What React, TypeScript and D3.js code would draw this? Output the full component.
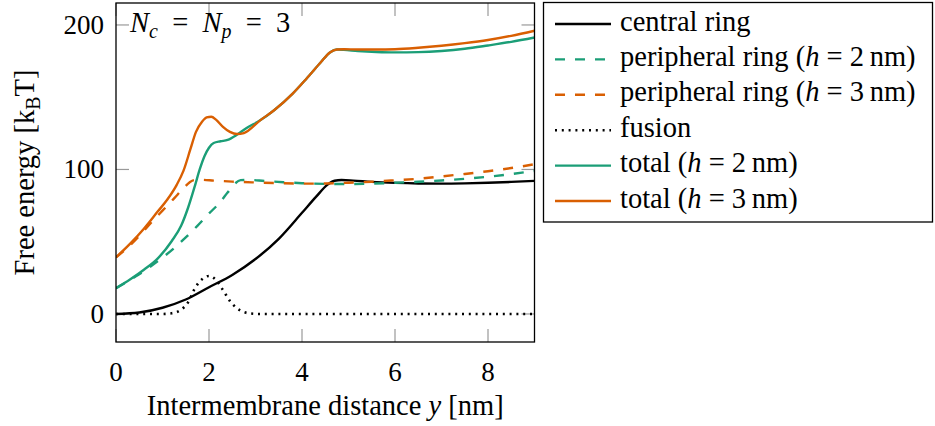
import React, { useEffect, useRef } from "react";
import * as d3 from "d3";

// Free energy curves: x in nm, energies in kBT
const xCentral = [0, 0.5, 1, 1.5, 2, 2.5, 3, 3.5, 4, 4.3, 4.55, 4.7, 4.85, 5.1, 5.5, 6, 6.5, 7, 7.5, 8, 8.5, 9];
const central = [0, 1, 4.3, 10, 18.5, 27, 38, 52, 70, 81, 89.5, 92.2, 92.7, 92.3, 91.4, 90.7, 90.3, 90.2, 90.4, 90.8, 91.4, 92.1];

const xPeri2 = [0, 0.25, 0.5, 0.75, 1, 1.25, 1.5, 1.75, 2, 2.2, 2.4, 2.55, 2.68, 2.85, 3.2, 3.6, 4, 4.5, 5, 5.5, 6, 6.5, 7, 7.5, 8, 8.5, 9];
const peri2 = [17.8, 22.5, 27.5, 33, 39, 45.5, 53, 61, 69.5, 76, 84, 90, 92.6, 92.8, 92, 91.2, 90.5, 90, 89.9, 90.2, 90.8, 91.5, 92.4, 93.5, 95, 96.8, 99];

const xPeri3 = [0, 0.25, 0.5, 0.75, 1, 1.25, 1.45, 1.58, 1.68, 1.85, 2.1, 2.5, 3, 3.5, 4, 4.5, 5, 5.5, 6, 6.5, 7, 7.5, 8, 8.5, 9];
const peri3 = [39.2, 46, 54, 63, 71.5, 80, 87, 91, 92.6, 92.8, 92.3, 91.6, 91, 90.5, 90.2, 90.3, 90.8, 91.5, 92.5, 93.6, 95.2, 96.9, 98.8, 101, 103.6];

const xFusion = [0, 1, 1.2, 1.4, 1.55, 1.7, 1.85, 2, 2.15, 2.3, 2.45, 2.6, 2.75, 2.9, 3.1, 9];
const fusion = [0, 0, 0.5, 3, 8, 18, 24, 26.3, 23.5, 16.6, 9, 4, 1.3, 0.3, 0, 0];

const xTotal2 = [0, 0.3, 0.6, 0.9, 1.2, 1.4, 1.55, 1.7, 1.8, 1.9, 2.0, 2.1, 2.25, 2.4, 2.6, 2.8, 3.1, 3.4, 3.8, 4.1, 4.4, 4.6, 4.75, 4.9, 5.2, 5.6, 6, 6.5, 7, 7.5, 8, 8.5, 9];
const total2 = [17.8, 23.8, 30.6, 38.5, 50.5, 61, 73.5, 89, 100, 109, 115, 118.3, 119.5, 120.5, 124, 128.5, 134, 141, 152.5, 163, 174, 181, 183, 182.8, 182, 181.3, 181, 181.2, 182, 183.5, 185.8, 188.3, 191.3];

const xTotal3 = [0, 0.3, 0.6, 0.9, 1.1, 1.3, 1.45, 1.6, 1.72, 1.85, 1.95, 2.05, 2.15, 2.3, 2.45, 2.6, 2.75, 3.1, 3.4, 3.8, 4.1, 4.4, 4.6, 4.75, 4.9, 5.2, 5.6, 6, 6.5, 7, 7.5, 8, 8.5, 9];
const total3 = [39.2, 48.5, 59, 71, 79, 89, 99, 114, 126, 133, 136, 136.5, 134.5, 129.5, 126, 124.5, 125.2, 134, 141, 152.5, 163, 174, 181, 183, 183.2, 183, 183, 183.2, 184.2, 185.6, 187.4, 189.6, 192.5, 196];

const xTicks = [0, 2, 4, 6, 8];
const yTicks = [0, 100, 200];

const GREEN = "#1b9e77";
const ORANGE = "#d95f02";
const FONT = "Liberation Serif, Times New Roman, serif";

type Seg = { text: string; italic?: boolean; sub?: boolean };

const legendLabels: Seg[][] = [
  [{ text: "central ring" }],
  [{ text: "peripheral ring (" }, { text: "h", italic: true }, { text: " = 2\u2009nm)" }],
  [{ text: "peripheral ring (" }, { text: "h", italic: true }, { text: " = 3\u2009nm)" }],
  [{ text: "fusion" }],
  [{ text: "total (" }, { text: "h", italic: true }, { text: " = 2\u2009nm)" }],
  [{ text: "total (" }, { text: "h", italic: true }, { text: " = 3\u2009nm)" }],
];

const series = [
  { xs: xCentral, ys: central, color: "#000", dash: "", width: 2.4 },
  { xs: xPeri2, ys: peri2, color: GREEN, dash: "10 10", width: 2.4 },
  { xs: xPeri3, ys: peri3, color: ORANGE, dash: "10 10", width: 2.4 },
  { xs: xFusion, ys: fusion, color: "#000", dash: "2 4.8", width: 2.6 },
  { xs: xTotal2, ys: total2, color: GREEN, dash: "", width: 2.4 },
  { xs: xTotal3, ys: total3, color: ORANGE, dash: "", width: 2.4 },
];

// append text made of roman / italic / subscript pieces
function rich(sel: d3.Selection<SVGTextElement, unknown, null, undefined>, segs: Seg[], size: number) {
  let shifted = false;
  segs.forEach((s) => {
    const t = sel.append("tspan").text(s.text);
    if (s.italic) t.style("font-style", "italic");
    if (s.sub) {
      t.style("font-size", `${size * 0.7}px`).attr("dy", shifted ? 0 : size * 0.22);
      shifted = true;
    } else if (shifted) {
      t.attr("dy", -size * 0.22);
      shifted = false;
    }
  });
}

const App: React.FC = () => {
  const svgRef = useRef<SVGSVGElement>(null);

  useEffect(() => {
    if (!svgRef.current) return;
    const svg = d3.select(svgRef.current);
    svg.selectAll("*").remove();

    const left = 116;
    const right = 534.5;
    const top = 3;
    const bottom = 342;
    const fs = 27; // tick labels
    const ls = 28.5; // titles, legend

    const x = d3.scaleLinear().domain([0, 9]).range([left, right]);
    const y = d3.scaleLinear().domain([-19.4, 215.2]).range([bottom, top]);

    svg
      .append("clipPath")
      .attr("id", "plot-clip")
      .append("rect")
      .attr("x", left)
      .attr("y", top)
      .attr("width", right - left)
      .attr("height", bottom - top);

    // ticks on all four sides, pointing inwards
    const tickLen = 13;
    const ticks = svg.append("g").attr("stroke", "#999").attr("stroke-width", 1.2);
    xTicks.forEach((t) => {
      ticks.append("line").attr("x1", x(t)).attr("x2", x(t)).attr("y1", bottom).attr("y2", bottom - tickLen);
      ticks.append("line").attr("x1", x(t)).attr("x2", x(t)).attr("y1", top).attr("y2", top + tickLen);
    });
    yTicks.forEach((t) => {
      ticks.append("line").attr("x1", left).attr("x2", left + tickLen).attr("y1", y(t)).attr("y2", y(t));
      ticks.append("line").attr("x1", right).attr("x2", right - tickLen).attr("y1", y(t)).attr("y2", y(t));
    });

    // curves
    const plot = svg.append("g").attr("clip-path", "url(#plot-clip)");
    series.forEach((s) => {
      const pts: [number, number][] = s.xs.map((v, i) => [v, s.ys[i]]);
      const line = d3
        .line<[number, number]>()
        .x((d) => x(d[0]))
        .y((d) => y(d[1]))
        .curve(d3.curveMonotoneX);
      plot
        .append("path")
        .attr("d", line(pts) as string)
        .attr("fill", "none")
        .attr("stroke", s.color)
        .attr("stroke-width", s.width)
        .attr("stroke-dasharray", s.dash || null);
    });

    // frame
    svg
      .append("rect")
      .attr("x", left)
      .attr("y", top)
      .attr("width", right - left)
      .attr("height", bottom - top)
      .attr("fill", "none")
      .attr("stroke", "#000")
      .attr("stroke-width", 1.3);

    const txt = svg
      .append("g")
      .style("font-family", FONT)
      .style("font-size", `${fs}px`)
      .attr("fill", "#000");

    // tick labels
    xTicks.forEach((t) => {
      txt.append("text").attr("x", x(t)).attr("y", 381).attr("text-anchor", "middle").text(t);
    });
    yTicks.forEach((t) => {
      txt.append("text").attr("x", 104).attr("y", y(t) + 9).attr("text-anchor", "end").text(t);
    });

    // axis titles
    const xl = txt
      .append("text")
      .attr("x", (left + right) / 2)
      .attr("y", 415)
      .attr("text-anchor", "middle")
      .style("font-size", `${ls}px`);
    rich(xl, [{ text: "Intermembrane distance " }, { text: "y", italic: true }, { text: " [nm]" }], ls);

    const yl = txt
      .append("text")
      .attr("transform", `translate(34, ${(top + bottom) / 2}) rotate(-90)`)
      .attr("text-anchor", "middle")
      .style("font-size", `${ls}px`);
    rich(yl, [{ text: "Free energy [k" }, { text: "B", sub: true }, { text: "T]" }], ls);

    // annotation
    const ann = txt.append("text").attr("x", 130).attr("y", 32).style("font-size", `${ls}px`);
    rich(
      ann,
      [
        { text: "N", italic: true },
        { text: "c", italic: true, sub: true },
        { text: "\u2002=\u2002" },
        { text: "N", italic: true },
        { text: "p", italic: true, sub: true },
        { text: "\u2002=\u20023" },
      ],
      ls
    );

    // legend
    const lg = svg.append("g");
    lg.append("rect")
      .attr("x", 543.5)
      .attr("y", 2.5)
      .attr("width", 389)
      .attr("height", 219.5)
      .attr("fill", "#fff")
      .attr("stroke", "#000")
      .attr("stroke-width", 1.3);
    series.forEach((s, i) => {
      const ly = 24 + i * 35.4;
      lg.append("line")
        .attr("x1", 555)
        .attr("x2", 611)
        .attr("y1", ly)
        .attr("y2", ly)
        .attr("stroke", s.color)
        .attr("stroke-width", s.width)
        .attr("stroke-dasharray", s.dash || null);
      const t = lg
        .append("text")
        .attr("x", 620)
        .attr("y", ly + 6.5)
        .style("font-family", FONT)
        .style("font-size", `${ls}px`);
      rich(t, legendLabels[i], ls);
    });
  }, []);

  return (
    <svg
      ref={svgRef}
      width={935}
      height={426}
      style={{ position: "absolute", left: 0, top: 0, background: "#fff" }}
    ></svg>
  );
};

export default App;
